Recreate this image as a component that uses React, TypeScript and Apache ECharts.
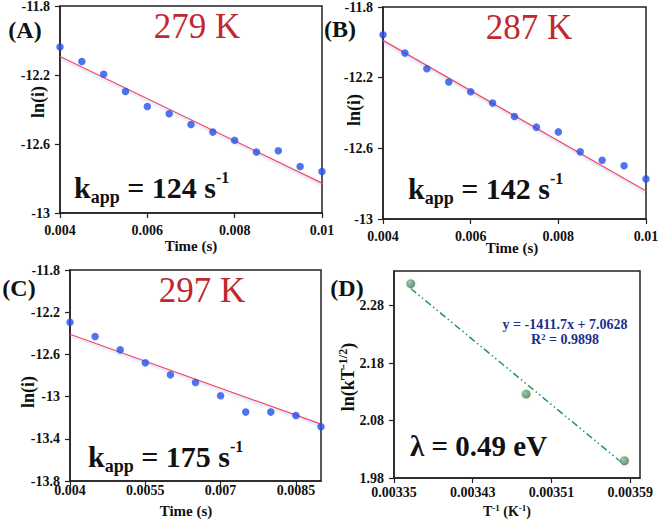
import React, { useEffect, useRef } from 'react';
import * as echarts from 'echarts';

const SERIF = '"Liberation Serif", "DejaVu Serif", serif';

// ---- data ----
const timeAB = [0.004, 0.0045, 0.005, 0.0055, 0.006, 0.0065, 0.007, 0.0075, 0.008, 0.0085, 0.009, 0.0095, 0.01];
const lnA = [-12.037, -12.122, -12.196, -12.296, -12.383, -12.425, -12.487, -12.531, -12.579, -12.647, -12.639, -12.73, -12.759];
const lnB = [-11.957, -12.061, -12.15, -12.225, -12.28, -12.344, -12.42, -12.48, -12.507, -12.62, -12.667, -12.699, -12.773];
const timeC = [0.004, 0.0045, 0.005, 0.0055, 0.006, 0.0065, 0.007, 0.0075, 0.008, 0.0085, 0.009];
const lnC = [-12.295, -12.431, -12.557, -12.68, -12.794, -12.866, -12.992, -13.147, -13.147, -13.179, -13.286];

const fitAx = [0.004, 0.01];
const fitAy = [-12.093, -12.827];
const fitBx = [0.004, 0.01];
const fitBy = [-11.989, -12.842];
const fitCx = [0.004, 0.009];
const fitCy = [-12.409, -13.261];

const invT = [0.003367, 0.0034843, 0.0035842];
const lnkT = [2.318, 2.126, 2.01];
const fitDx = [0.003367, 0.003584];
const fitDy = [2.3096, 2.0032];

const temps = ['279 K', '287 K', '297 K'];
const kapp = [124, 142, 175];
const tags = ['(A)', '(B)', '(C)', '(D)'];
const equation = 'y = -1411.7x + 7.0628';
const rSquared = 'R² = 0.9898';
const lambdaText = 'λ = 0.49 eV';

const zip = (xs: number[], ys: number[]) => xs.map((x, i) => [x, ys[i]]);

const AXIS_COLOR = '#222';

function xAxis(gi: number, min: number, max: number, interval: number, margin: number, showMax: boolean) {
  return {
    type: 'value', gridIndex: gi, min, max, interval,
    axisLine: { show: true, onZero: false, lineStyle: { color: AXIS_COLOR, width: 1.5 } },
    axisTick: { show: true, length: 5, lineStyle: { color: AXIS_COLOR, width: 1.2 } },
    axisLabel: { margin, fontFamily: SERIF, fontWeight: 'bold', fontSize: 14, color: '#111', showMaxLabel: showMax, showMinLabel: true },
    splitLine: { show: false },
  };
}
function yAxis(gi: number, min: number, max: number, interval: number, showMax: boolean) {
  return {
    type: 'value', gridIndex: gi, min, max, interval,
    axisLine: { show: true, onZero: false, lineStyle: { color: AXIS_COLOR, width: 1.5 } },
    axisTick: { show: true, length: 5, lineStyle: { color: AXIS_COLOR, width: 1.2 } },
    axisLabel: { margin: 10, fontFamily: SERIF, fontWeight: 'bold', fontSize: 14, color: '#111', showMaxLabel: showMax, showMinLabel: true },
    splitLine: { show: false },
  };
}

const gridBase = { show: true, borderColor: AXIS_COLOR, borderWidth: 1.5, backgroundColor: 'transparent', containLabel: false, outerBoundsMode: 'none' };

function kappText(x: number, y: number, k: number) {
  return {
    type: 'text', x, y, z: 100,
    style: {
      text: `{k|k}{s|app}{k| = ${k} s}{p|-1}`,
      textAlign: 'left', textVerticalAlign: 'middle',
      rich: {
        k: { fontFamily: SERIF, fontWeight: 'bold', fontSize: 30, lineHeight: 36, fill: '#111' },
        s: { fontFamily: SERIF, fontWeight: 'bold', fontSize: 18, lineHeight: 22, verticalAlign: 'bottom', fill: '#111' },
        p: { fontFamily: SERIF, fontWeight: 'bold', fontSize: 16, lineHeight: 31, verticalAlign: 'top', fill: '#111' },
      },
    },
  };
}

function plainText(x: number, y: number, text: string, size: number, weight: string, fill: string, align = 'center') {
  return {
    type: 'text', x, y, z: 100,
    style: { text, fontFamily: SERIF, fontSize: size, fontWeight: weight, fill, textAlign: align, textVerticalAlign: 'middle' },
  };
}

function rotatedText(x: number, y: number, text: string, rich?: any) {
  return {
    type: 'text', x, y, rotation: Math.PI / 2, z: 100,
    style: {
      text, fontFamily: SERIF, fontSize: 18, fontWeight: 'bold', fill: '#111',
      textAlign: 'center', textVerticalAlign: 'middle', rich,
    },
  };
}

const blueDot = { color: '#2650e8' };
const redLine = { color: '#f04a62', width: 1.2, shadowColor: 'rgba(110,140,230,0.5)', shadowBlur: 2, shadowOffsetY: 1.5 };

export default function App() {
  const ref = useRef<HTMLDivElement>(null);
  useEffect(() => {
    if (!ref.current) return;
    const chart = echarts.init(ref.current, undefined, { renderer: 'svg' });
    const supRich = {
      a: { fontFamily: SERIF, fontSize: 18, fontWeight: 'bold', fill: '#111', lineHeight: 22 },
      b: { fontFamily: SERIF, fontSize: 12, fontWeight: 'bold', fill: '#111', lineHeight: 22, verticalAlign: 'top' },
    };
    const xRich = {
      a: { fontFamily: SERIF, fontSize: 14, fontWeight: 'bold', fill: '#111', lineHeight: 16 },
      b: { fontFamily: SERIF, fontSize: 9, fontWeight: 'bold', fill: '#111', lineHeight: 14, verticalAlign: 'top' },
    };
    chart.setOption({
      animation: false,
      backgroundColor: '#fff',
      grid: [
        { ...gridBase, left: 60, top: 6, width: 262, height: 207 },
        { ...gridBase, left: 383, top: 7, width: 263, height: 212 },
        { ...gridBase, left: 70, top: 270, width: 251, height: 211 },
        { ...gridBase, left: 394, top: 271, width: 246, height: 207 },
      ],
      xAxis: [
        xAxis(0, 0.004, 0.01, 0.002, 10, true),
        xAxis(1, 0.004, 0.01, 0.002, 10, true),
        xAxis(2, 0.004, 0.009, 0.0015, 2, false),
        xAxis(3, 0.00335, 0.0036, 0.00008, 7, false),
      ],
      yAxis: [
        yAxis(0, -13, -11.8, 0.4, true),
        yAxis(1, -13, -11.8, 0.4, true),
        yAxis(2, -13.8, -11.8, 0.4, true),
        yAxis(3, 1.98, 2.34, 0.1, false),
      ],
      series: [
        { type: 'line', xAxisIndex: 0, yAxisIndex: 0, data: zip(fitAx, fitAy), showSymbol: false, lineStyle: redLine, z: 2 },
        { type: 'scatter', xAxisIndex: 0, yAxisIndex: 0, data: zip(timeAB, lnA), symbolSize: 7.5, itemStyle: blueDot, z: 3 },
        { type: 'line', xAxisIndex: 1, yAxisIndex: 1, data: zip(fitBx, fitBy), showSymbol: false, lineStyle: redLine, z: 2 },
        { type: 'scatter', xAxisIndex: 1, yAxisIndex: 1, data: zip(timeAB, lnB), symbolSize: 7.5, itemStyle: blueDot, z: 3 },
        { type: 'line', xAxisIndex: 2, yAxisIndex: 2, data: zip(fitCx, fitCy), showSymbol: false, lineStyle: redLine, z: 2 },
        { type: 'scatter', xAxisIndex: 2, yAxisIndex: 2, data: zip(timeC, lnC), symbolSize: 7.5, itemStyle: blueDot, z: 3 },
        {
          type: 'line', xAxisIndex: 3, yAxisIndex: 3, data: zip(fitDx, fitDy), showSymbol: false, z: 2,
          lineStyle: { color: '#1f8f82', width: 1.5, type: [7, 3, 1.5, 3, 1.5, 3] },
        },
        {
          type: 'scatter', xAxisIndex: 3, yAxisIndex: 3, data: zip(invT, lnkT), symbolSize: 9, z: 3,
          itemStyle: {
            color: new echarts.graphic.RadialGradient(0.35, 0.35, 0.7, [
              { offset: 0, color: '#6fc2bd' },
              { offset: 1, color: '#176a6a' },
            ]),
            shadowColor: 'rgba(240,235,130,0.95)', shadowBlur: 5,
          },
        },
      ],
      graphic: [
        plainText(25, 30, tags[0], 24, 'bold', '#111'),
        plainText(340, 29, tags[1], 24, 'bold', '#111'),
        plainText(19, 288, tags[2], 24, 'bold', '#111'),
        plainText(347, 288, tags[3], 24, 'bold', '#111'),
        plainText(197, 26, temps[0], 35, 'normal', '#c1272d'),
        plainText(529, 27, temps[1], 35, 'normal', '#c1272d'),
        plainText(202, 290, temps[2], 35, 'normal', '#c1272d'),
        kappText(74, 187.5, kapp[0]),
        kappText(408, 188.5, kapp[1]),
        kappText(88, 456.5, kapp[2]),
        plainText(410, 446, lambdaText, 29, 'bold', '#111', 'left'),
        plainText(565, 324, equation, 14, 'bold', '#1c2f8c'),
        plainText(565, 339, rSquared, 14, 'bold', '#1c2f8c'),
        rotatedText(38, 102, 'ln(i)'),
        rotatedText(354, 110, 'ln(i)'),
        rotatedText(28, 392, 'ln(i)'),
        rotatedText(348, 377, '{a|ln(kT}{b|-1/2}{a|)}', supRich),
        plainText(191, 246, 'Time (s)', 15, 'bold', '#111'),
        plainText(512, 248, 'Time (s)', 15, 'bold', '#111'),
        plainText(186, 511, 'Time (s)', 15, 'bold', '#111'),
        {
          type: 'text', x: 507, y: 511, z: 100,
          style: { text: '{a|T}{b|-1}{a| (K}{b|-1}{a|)}', rich: xRich, textAlign: 'center', textVerticalAlign: 'middle' },
        },
      ],
    });
    return () => chart.dispose();
  }, []);
  return <div ref={ref} style={{ width: 661, height: 520, position: 'absolute', left: 0, top: 0 }} />;
}
